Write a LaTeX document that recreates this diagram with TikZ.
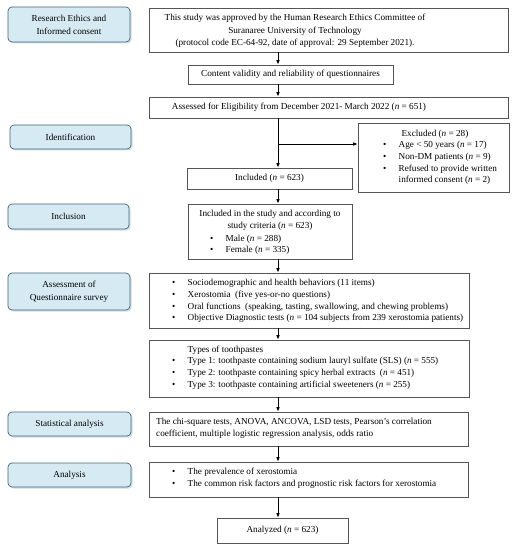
\documentclass[tikz,border=0pt]{standalone}
\usepackage{fontspec}
\setmainfont{Liberation Serif}
\usetikzlibrary{arrows.meta,shadows}
\definecolor{lblue}{HTML}{D6EAF3}
\definecolor{lborder}{HTML}{4A6272}
\definecolor{lshadow}{HTML}{B9D9EC}
\definecolor{bborder}{HTML}{555555}
\newcommand{\blt}{\makebox[15.5bp][l]{\textbullet}}
\newcommand{\nn}{\textit{n}}
\begin{document}
\begin{tikzpicture}[x=1bp,y=-1bp,
  every node/.style={font=\fontsize{9.2bp}{11.6bp}\selectfont, inner sep=0pt},
  lbox/.style={draw=lborder, line width=0.7bp, fill=lblue, rounded corners=4bp,
    align=center, font=\fontsize{9.2bp}{13bp}\selectfont,
    drop shadow={shadow xshift=1.5bp, shadow yshift=-1.5bp, fill=lshadow, opacity=0.8}},
  rbox/.style={draw=bborder, line width=0.6bp, fill=white, align=center},
  txt/.style={align=left, anchor=west},
  arr/.style={-{Latex[length=4.5bp,width=3.6bp]}, line width=0.9bp, black}]
\useasboundingbox (0,0) rectangle (517,550);
% left category boxes
\node[lbox, minimum width=122bp, minimum height=35bp] (L1) at (69,24.5) {Research Ethics and\\Informed consent};
\node[lbox, minimum width=121bp, minimum height=24bp] (L2) at (70.5,137) {Identification};
\node[lbox, minimum width=121bp, minimum height=25bp] (L3) at (68.5,216.5) {Inclusion};
\node[lbox, minimum width=122bp, minimum height=37bp] (L4) at (69,291.5) {Assessment of\\Questionnaire survey};
\node[lbox, minimum width=123bp, minimum height=24bp] (L5) at (69.5,424) {Statistical analysis};
\node[lbox, minimum width=123bp, minimum height=24bp] (L6) at (69.5,475) {Analysis};
% right flow boxes
\node[rbox, minimum width=359bp, minimum height=44bp] (A) at (328.5,30) {};
\node[align=center, font=\fontsize{9.2bp}{12.5bp}\selectfont] (At) at (295,30.8) {This study was approved by the Human Research Ethics Committee of\\Suranaree University of Technology\\(protocol code EC-64-92, date of approval: 29 September 2021).};
\node[rbox, minimum width=205bp, minimum height=19bp] (B) at (290.5,74.5) {Content validity and reliability of questionnaires};
\node[rbox, minimum width=359bp, minimum height=21bp] (C) at (328.5,107.5) {};
\node (Ct) at (299,107.5) {Assessed for Eligibility from December 2021- March 2022 (\nn{} = 651)};
\node[rbox, minimum width=151bp, minimum height=69bp] (E) at (433.5,157.5) {};
\node (Et) at (435,134.5) {Excluded (\nn{} = 28)};
\node[txt] (El) at (383,163) {\blt Age < 50 years (\nn{} = 17)\\\blt Non-DM patients (\nn{} = 9)\\\blt Refused to provide written\\\hspace*{15.5bp}informed consent (\nn{} = 2)};
\node[rbox, minimum width=165bp, minimum height=21bp] (I) at (269.5,178.5) {Included (\nn{} = 623)};
\node[rbox, minimum width=164bp, minimum height=55bp] (S) at (270,231.5) {};
\node[align=center] (St) at (270,220.3) {Included in the study and according to\\study criteria (\nn{} = 623)};
\node[txt] (Sl) at (210,244.7) {\blt Male (\nn{} = 288)\\\blt Female (\nn{} = 335)};
\node[rbox, minimum width=320bp, minimum height=55bp] (Q) at (309,300.5) {};
\node[txt] (Qt) at (172,301) {\blt Sociodemographic and health behaviors (11 items)\\\blt Xerostomia\ \ (five yes-or-no questions)\\\blt Oral functions\ \ (speaking, tasting, swallowing, and chewing problems)\\\blt Objective Diagnostic tests (\nn{} = 104 subjects from 239 xerostomia patients)};
\node[rbox, minimum width=320bp, minimum height=57bp] (T) at (309,368.5) {};
\node[txt] (Tt) at (172,367.5) {\hspace*{15.5bp}Types of toothpastes\\\blt Type 1: toothpaste containing sodium lauryl sulfate (SLS) (\nn{} = 555)\\\blt Type 2: toothpaste containing spicy herbal extracts\ \ (\nn{} = 451)\\\blt Type 3: toothpaste containing artificial sweeteners (\nn{} = 255)};
\node[rbox, minimum width=319bp, minimum height=34bp] (X) at (308.5,429) {};
\node[txt] (Xt) at (156,428) {The chi-square tests, ANOVA, ANCOVA, LSD tests, Pearson's correlation\\coefficient, multiple logistic regression analysis, odds ratio};
\node[rbox, minimum width=319bp, minimum height=35bp] (P) at (308.5,479.5) {};
\node[txt] (Pt) at (172,478) {\blt The prevalence of xerostomia\\\blt The common risk factors and prognostic risk factors for xerostomia};
\node[rbox, minimum width=131bp, minimum height=25bp] (Z) at (282.5,530.5) {Analyzed (\nn{} = 623)};
% connectors
\coordinate (sp) at (278,0);
\coordinate (br) at (278,144);
\draw[arr] (A.south -| sp) -- (B.north -| sp);
\draw[arr] (B.south -| sp) -- (C.north -| sp);
\draw[arr] (C.south -| sp) -- (I.north -| sp);
\draw[arr] (br) -- (br -| E.west);
\draw[arr] (I.south -| sp) -- (S.north -| sp);
\draw[arr] (S.south -| sp) -- (Q.north -| sp);
\draw[arr] (Q.south -| sp) -- (T.north -| sp);
\draw[arr] (T.south -| sp) -- (X.north -| sp);
\draw[arr] (X.south -| sp) -- (P.north -| sp);
\draw[arr] (P.south -| sp) -- (Z.north -| sp);
\end{tikzpicture}
\end{document}
